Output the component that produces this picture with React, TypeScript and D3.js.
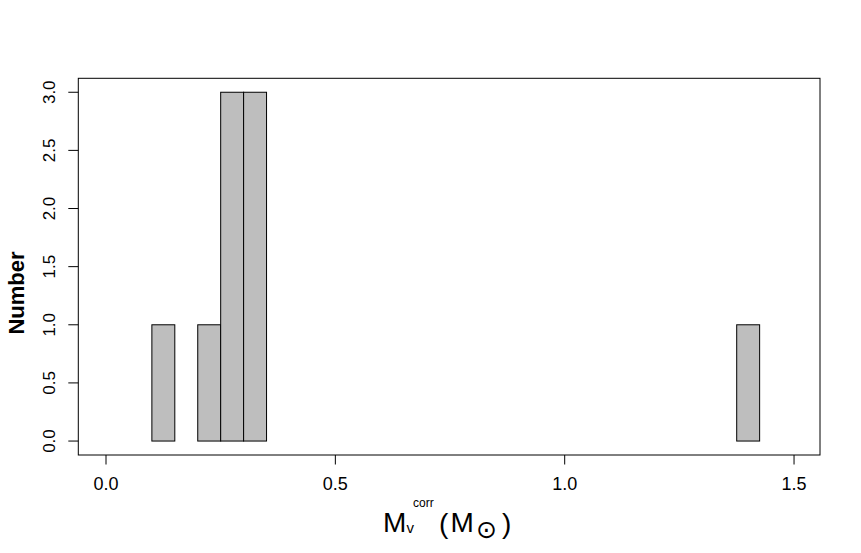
import React, { useEffect } from "react";
import * as d3 from "d3";

const binStarts = [0.1, 0.2, 0.25, 0.3, 1.375];
const binEnds = [0.15, 0.25, 0.3, 0.35, 1.425];
const counts = [1, 1, 3, 3, 1];
const xTicks = [0, 0.5, 1.0, 1.5];
const yTicks = [0, 0.5, 1.0, 1.5, 2.0, 2.5, 3.0];

const W = 861;
const H = 553;
const FONT = "'Liberation Sans', Arial, sans-serif";

export default function App() {
  useEffect(() => {
    document.body.style.margin = "0";
  }, []);

  const x = d3.scaleLinear().domain([-0.0604, 1.5566]).range([78.3, 820]);
  const y = d3.scaleLinear().domain([-0.12, 3.12]).range([455, 78.3]);
  const fmt = d3.format(".1f");

  const [x0, x1] = x.range();
  const [yb, yt] = y.range();

  return (
    <svg width={W} height={H} style={{ display: "block", background: "#fff" }}>
      {binStarts.map((s, i) => (
        <rect
          key={i}
          x={x(s)}
          y={y(counts[i])}
          width={x(binEnds[i]) - x(s)}
          height={y(0) - y(counts[i])}
          fill="#BEBEBE"
          stroke="#000"
          strokeWidth={1}
        />
      ))}
      <rect x={x0} y={yt} width={x1 - x0} height={yb - yt} fill="none" stroke="#000" strokeWidth={1} />
      {xTicks.map((t) => (
        <g key={"x" + t}>
          <line x1={x(t)} x2={x(t)} y1={yb} y2={yb + 9.5} stroke="#000" />
          <text x={x(t)} y={490} textAnchor="middle" fontFamily={FONT} fontSize={18}>
            {fmt(t)}
          </text>
        </g>
      ))}
      {yTicks.map((t) => (
        <g key={"y" + t}>
          <line x1={x0 - 10} x2={x0} y1={y(t)} y2={y(t)} stroke="#000" />
          <text
            transform={`translate(55,${y(t)}) rotate(-90)`}
            textAnchor="middle"
            fontFamily={FONT}
            fontSize={17}
          >
            {fmt(t)}
          </text>
        </g>
      ))}
      <text
        transform={`translate(24,293) rotate(-90)`}
        textAnchor="middle"
        fontFamily={FONT}
        fontSize={22}
        fontWeight="bold"
      >
        Number
      </text>
      <g fontFamily={FONT}>
        <text x={383} y={532} fontSize={28}>M</text>
        <text x={406.5} y={533} fontSize={15}>v</text>
        <text x={413} y={507} fontSize={12}>corr</text>
        <text x={439} y={533} fontSize={28}>(</text>
        <text x={450.5} y={532} fontSize={28}>M</text>
        <text x={486.5} y={538} fontSize={25} textAnchor="middle" fontFamily="'DejaVu Sans', sans-serif">⊙</text>
        <text x={502} y={533} fontSize={28}>)</text>
      </g>
    </svg>
  );
}
